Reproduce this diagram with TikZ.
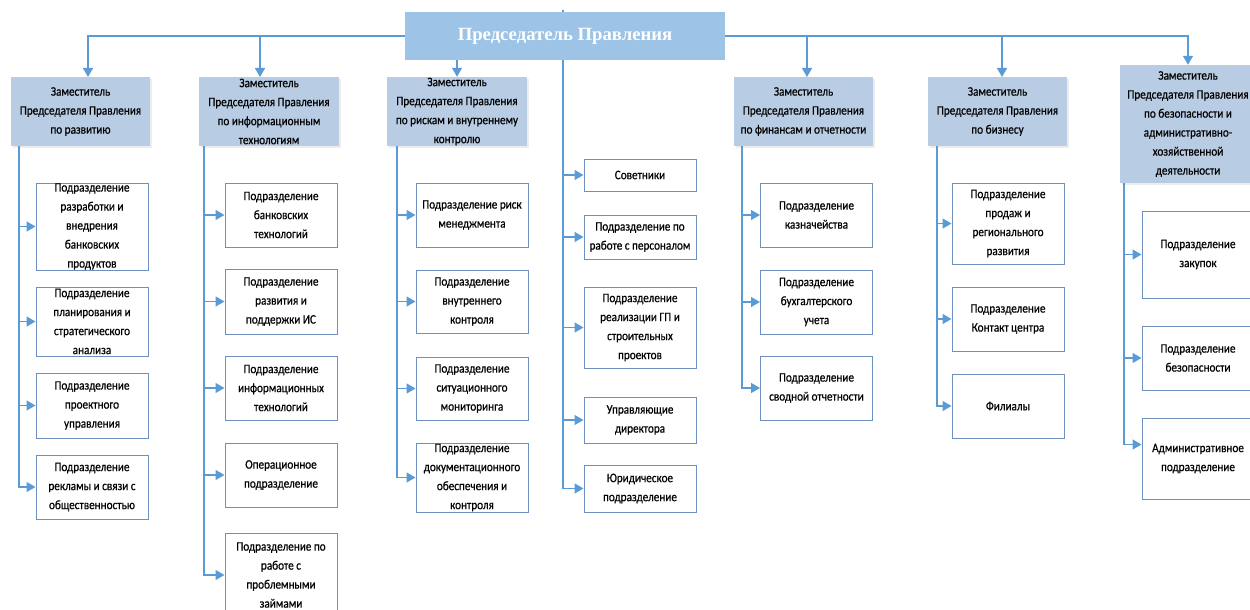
\documentclass[tikz,border=0pt]{standalone}
\usepackage{fontspec}
\setmainfont{Carlito}[FakeStretch=0.86,FakeBold=0.5]
\newfontfamily\titlefont{Liberation Serif}
\usetikzlibrary{arrows.meta,calc,shadows,backgrounds}
\definecolor{lineblue}{HTML}{5B9BD5}
\definecolor{chiefblue}{HTML}{9DC3E6}
\definecolor{depblue}{HTML}{B8CCE4}
\definecolor{boxblue}{HTML}{6F8FBF}
\begin{document}
\begin{tikzpicture}[x=1pt,y=-1pt,
  conn/.style={draw=lineblue, line width=1.4pt},
  arr/.style={conn, -{Triangle[length=9pt,width=10pt]}},
  chief/.style={fill=chiefblue, draw=none, minimum width=320pt, minimum height=48pt, inner sep=0pt, text=white, font=\titlefont\bfseries\fontsize{18.7}{20}\selectfont},
  deputy/.style={fill=depblue, draw=none, inner sep=0pt, drop shadow={opacity=0.15, shadow xshift=2pt, shadow yshift=-2pt}},
  childbox/.style={draw=boxblue, line width=1pt, fill=white, inner sep=0pt, minimum width=112pt},
  ctext/.style={font=\fontsize{13}{19}\selectfont, align=center, inner sep=0pt, text=black}
]
\useasboundingbox (0,0) rectangle (1250,610);

% Chairman
\node[chief] (ch) at (565,36) {Председатель Правления};

% Deputies
\node[deputy, minimum width=139pt, minimum height=69pt, label={[ctext]center:Заместитель\\Председателя Правления\\по развитию}] (d1) at (80.5,111.5) {};
\node[deputy, minimum width=140pt, minimum height=69pt, label={[ctext]center:Заместитель\\Председателя Правления\\по информационным\\технологиям}] (d2) at (269,111.5) {};
\node[deputy, minimum width=140pt, minimum height=69pt, label={[ctext]center:Заместитель\\Председателя Правления\\по рискам и внутреннему\\контролю}] (d3) at (457,111.5) {};
\node[deputy, minimum width=139pt, minimum height=69pt, label={[ctext]center:Заместитель\\Председателя Правления\\по финансам и отчетности}] (d4) at (803.5,111.5) {};
\node[deputy, minimum width=139pt, minimum height=69pt, label={[ctext]center:Заместитель\\Председателя Правления\\по бизнесу}] (d5) at (997.5,111.5) {};
\node[deputy, minimum width=136pt, minimum height=118pt, label={[ctext]center:Заместитель\\Председателя Правления\\по безопасности и\\административно-\\хозяйственной\\деятельности}] (d6) at (1188,124) {};

% Column 1
\node[childbox, minimum height=87pt, label={[ctext]center:Подразделение\\разработки и\\внедрения\\банковских\\продуктов}] (c11) at (92,226.5) {};
\node[childbox, minimum height=69pt, label={[ctext]center:Подразделение\\планирования и\\стратегического\\анализа}] (c12) at (92,321.5) {};
\node[childbox, minimum height=65pt, label={[ctext]center:Подразделение\\проектного\\управления}] (c13) at (92,405.5) {};
\node[childbox, minimum height=64pt, label={[ctext]center:Подразделение\\рекламы и связи с\\общественностью}] (c14) at (92,487) {};

% Column 2
\node[childbox, minimum height=64pt, label={[ctext]center:Подразделение\\банковских\\технологий}] (c21) at (281,215) {};
\node[childbox, minimum height=65pt, label={[ctext]center:Подразделение\\развития и\\поддержки ИС}] (c22) at (281,301.5) {};
\node[childbox, minimum height=64pt, label={[ctext]center:Подразделение\\информационных\\технологий}] (c23) at (281,388) {};
\node[childbox, minimum height=64pt, label={[ctext]center:Операционное\\подразделение}] (c24) at (281,475) {};
\node[childbox, minimum height=84pt, label={[ctext]center:Подразделение по\\работе с\\проблемными\\займами}] (c25) at (281,575) {};

% Column 3
\node[childbox, minimum height=64pt, label={[ctext]center:Подразделение риск\\менеджмента}] (c31) at (472,215) {};
\node[childbox, minimum height=63pt, label={[ctext]center:Подразделение\\внутреннего\\контроля}] (c32) at (472,301.5) {};
\node[childbox, minimum height=63pt, label={[ctext]center:Подразделение\\ситуационного\\мониторинга}] (c33) at (472,388.5) {};
\node[childbox, minimum height=69pt, label={[ctext]center:Подразделение\\документационного\\обеспечения и\\контроля}] (c34) at (472,477.5) {};

% Middle column
\node[childbox, minimum height=32pt, label={[ctext]center:Советники}] (m1) at (640,175) {};
\node[childbox, minimum height=44pt, label={[ctext]center:Подразделение по\\работе с персоналом}] (m2) at (640,237) {};
\node[childbox, minimum height=81pt, label={[ctext]center:Подразделение\\реализации ГП и\\строительных\\проектов}] (m3) at (640,327.5) {};
\node[childbox, minimum height=46pt, label={[ctext]center:Управляющие\\директора}] (m4) at (640,420) {};
\node[childbox, minimum height=47pt, label={[ctext]center:Юридическое\\подразделение}] (m5) at (640,488.5) {};

% Column 4
\node[childbox, minimum height=64pt, label={[ctext]center:Подразделение\\казначейства}] (c41) at (816.5,215) {};
\node[childbox, minimum height=64pt, label={[ctext]center:Подразделение\\бухгалтерского\\учета}] (c42) at (816.5,302) {};
\node[childbox, minimum height=64pt, label={[ctext]center:Подразделение\\сводной отчетности}] (c43) at (816.5,388) {};

% Column 5
\node[childbox, minimum height=81pt, label={[ctext]center:Подразделение\\продаж и\\регионального\\развития}] (c51) at (1008,223.5) {};
\node[childbox, minimum height=64pt, label={[ctext]center:Подразделение\\Контакт центра}] (c52) at (1008,319) {};
\node[childbox, minimum height=64pt, label={[ctext]center:Филиалы}] (c53) at (1008,406) {};

% Column 6
\node[childbox, minimum height=87pt, label={[ctext]center:Подразделение\\закупок}] (c61) at (1198,254.5) {};
\node[childbox, minimum height=64pt, label={[ctext]center:Подразделение\\безопасности}] (c62) at (1198,358) {};
\node[childbox, minimum height=81pt, label={[ctext]center:Административное\\подразделение}] (c63) at (1198,458.5) {};

% trunk and target coordinates
\coordinate (a1) at (88,77);
\coordinate (a2) at (260,77);
\coordinate (a4) at (807,77);
\coordinate (a5) at (1002,77);
\coordinate (t1) at (19,146);
\coordinate (t2) at (204,146);
\coordinate (t3) at (397,146);
\coordinate (tm) at (563,10);
\coordinate (t4) at (742,146);
\coordinate (t5) at (937,146);
\coordinate (t6) at (1124,183);

\begin{scope}[on background layer]
\draw[arr] (ch.west) -| (a1);
\draw[arr] (ch.west) -| (a2);
\draw[arr] (ch.south -| d3.north) -- (d3.north);
\draw[arr] (ch.east) -| (a4);
\draw[arr] (ch.east) -| (a5);
\draw[arr] (ch.east) -| (d6.north);

\foreach \c in {c11,c12,c13,c14} \draw[arr] (t1) |- (\c.west);
\foreach \c in {c21,c22,c23,c24,c25} \draw[arr] (t2) |- (\c.west);
\foreach \c in {c31,c32,c33,c34} \draw[arr] (t3) |- (\c.west);
\foreach \c in {m1,m2,m3,m4,m5} \draw[arr] (tm) |- (\c.west);
\foreach \c in {c41,c42,c43} \draw[arr] (t4) |- (\c.west);
\foreach \c in {c51,c52,c53} \draw[arr] (t5) |- (\c.west);
\draw[arr] (t6) |- (c61.west);
\draw[arr] (t6) |- (c62.west);
\draw[arr] (t6) |- ($(c63.west)+(0,-14)$);
\end{scope}
\end{tikzpicture}
\end{document}
